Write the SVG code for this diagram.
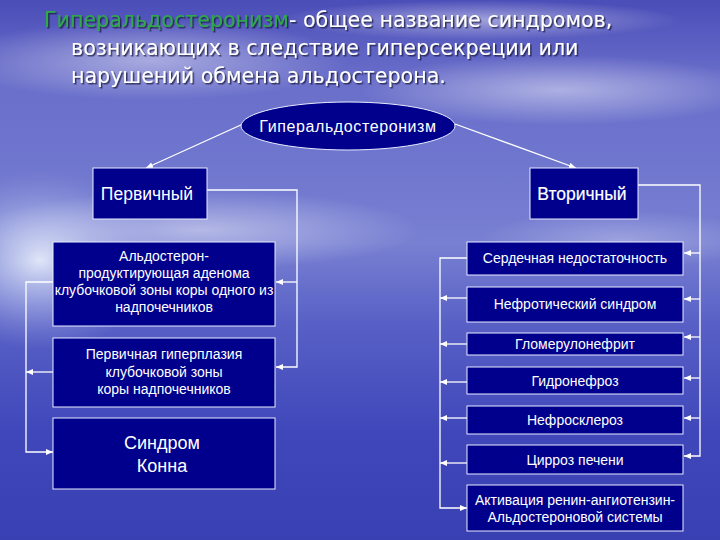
<svg xmlns="http://www.w3.org/2000/svg" width="720" height="540" viewBox="0 0 720 540">
<defs>
<linearGradient id="bg" x1="0" y1="0" x2="0" y2="1">
<stop offset="0" stop-color="#4b4db8"/>
<stop offset="0.15" stop-color="#6a6fca"/>
<stop offset="0.3" stop-color="#6f76ce"/>
<stop offset="0.45" stop-color="#7880d2"/>
<stop offset="0.6" stop-color="#5860c6"/>
<stop offset="0.8" stop-color="#4047ba"/>
<stop offset="1" stop-color="#3940b2"/>
</linearGradient>
<radialGradient id="glow" cx="0.5" cy="0.5" r="0.5">
<stop offset="0" stop-color="#e6ecfa" stop-opacity="0.95"/>
<stop offset="0.5" stop-color="#bcc6ee" stop-opacity="0.5"/>
<stop offset="1" stop-color="#9aa3e0" stop-opacity="0"/>
</radialGradient>
<radialGradient id="cloud" cx="0.5" cy="0.5" r="0.5">
<stop offset="0" stop-color="#ffffff" stop-opacity="0.45"/>
<stop offset="1" stop-color="#ffffff" stop-opacity="0"/>
</radialGradient>
<marker id="ah" markerWidth="8" markerHeight="8" refX="7" refY="4" orient="auto" markerUnits="userSpaceOnUse">
<path d="M0,1 L7,4 L0,7 Z" fill="#ffffff"/>
</marker>
<filter id="sh" x="-5%" y="-20%" width="110%" height="140%">
<feDropShadow dx="1.5" dy="1.5" stdDeviation="0.6" flood-color="#1a1a40" flood-opacity="0.8"/>
</filter>
<style>
.box{fill:#00008c;stroke:#e8ecff;stroke-width:1}
.t{font-family:"Liberation Sans",Arial,sans-serif;fill:#ffffff;text-anchor:middle}
.s{font-size:14px}
.m{font-size:17.5px}
.l{font-size:18px}
.c{fill:none;stroke:#ffffff;stroke-width:1.3}
.title{font-family:"DejaVu Sans",Verdana,sans-serif;font-size:20.6px;fill:#ffffff}
</style>
</defs>
<rect width="720" height="540" fill="url(#bg)"/>
<ellipse cx="40" cy="260" rx="120" ry="90" fill="url(#glow)"/>
<ellipse cx="200" cy="230" rx="220" ry="40" fill="url(#cloud)"/>
<ellipse cx="150" cy="60" rx="200" ry="40" fill="url(#cloud)"/>
<ellipse cx="560" cy="90" rx="200" ry="35" fill="url(#cloud)"/>
<ellipse cx="480" cy="20" rx="200" ry="20" fill="url(#cloud)"/>
<ellipse cx="620" cy="240" rx="140" ry="30" fill="url(#cloud)" opacity="0.6"/>

<g id="title" filter="url(#sh)">
<text class="title" x="44" y="27"><tspan fill="#2fa84a">Гиперальдостеронизм</tspan>- общее название синдромов,</text>
<text class="title" x="71" y="55">возникающих в следствие гиперсекреции или</text>
<text class="title" x="71" y="83">нарушений обмена альдостерона.</text>
</g>

<g id="connectors">
<path class="c" d="M243,124 L146,168" marker-end="url(#ah)"/>
<path class="c" d="M455,124 L576,168" marker-end="url(#ah)"/>
<path class="c" d="M207,190 H297 V367 H276" marker-end="url(#ah)"/>
<path class="c" d="M297,282 H276" marker-end="url(#ah)"/>
<path class="c" d="M53,282 H26 V452 H53" marker-end="url(#ah)"/>
<path class="c" d="M53,372 H26" marker-end="url(#ah)"/>
<path class="c" d="M638,185 H700 V456 H684" marker-end="url(#ah)"/>
<path class="c" d="M700,253 H684" marker-end="url(#ah)"/>
<path class="c" d="M700,299 H684" marker-end="url(#ah)"/>
<path class="c" d="M700,337 H684" marker-end="url(#ah)"/>
<path class="c" d="M700,378 H684" marker-end="url(#ah)"/>
<path class="c" d="M700,418 H684" marker-end="url(#ah)"/>
<path class="c" d="M467,258 H440 V508 H467" marker-end="url(#ah)"/>
<path class="c" d="M467,298 H440" marker-end="url(#ah)"/>
<path class="c" d="M467,344 H440" marker-end="url(#ah)"/>
<path class="c" d="M467,382 H440" marker-end="url(#ah)"/>
<path class="c" d="M467,418 H440" marker-end="url(#ah)"/>
<path class="c" d="M467,463 H440" marker-end="url(#ah)"/>
</g>

<g id="root">
<ellipse cx="348" cy="126" rx="107" ry="24" fill="#00008c" stroke="#e8ecff" stroke-width="1"/>
<text class="t" x="348" y="132" font-size="16" letter-spacing="0.6">Гиперальдостеронизм</text>
</g>
<g id="primary">
<rect class="box" x="93" y="168" width="114" height="51"/>
<text class="t m" x="147" y="200">Первичный</text>
</g>
<g id="secondary">
<rect class="box" x="530" y="168" width="108" height="51"/>
<text class="t m" x="582" y="200" stroke="#ffffff" stroke-width="0.2">Вторичный</text>
</g>
<g id="adenoma">
<rect class="box" x="53" y="242" width="222" height="84"/>
<text class="t s" x="164" y="261">Альдостерон-</text>
<text class="t s" x="164" y="278">продуктирующая аденома</text>
<text class="t s" x="164" y="295">клубочковой зоны коры одного из</text>
<text class="t s" x="164" y="312">надпочечников</text>
</g>
<g id="hyperplasia">
<rect class="box" x="53" y="338" width="222" height="69"/>
<text class="t s" x="164" y="359">Первичная гиперплазия</text>
<text class="t s" x="164" y="377">клубочковой зоны</text>
<text class="t s" x="164" y="394">коры надпочечников</text>
</g>
<g id="conn">
<rect class="box" x="53" y="418" width="222" height="71"/>
<text class="t l" x="162" y="449">Синдром</text>
<text class="t l" x="162" y="472">Конна</text>
</g>
<g id="heart">
<rect class="box" x="467" y="242" width="216" height="33"/>
<text class="t s" x="575" y="263">Сердечная недостаточность</text>
</g>
<g id="nephrotic">
<rect class="box" x="467" y="287" width="216" height="35"/>
<text class="t s" x="575" y="309">Нефротический синдром</text>
</g>
<g id="glomerulo">
<rect class="box" x="467" y="333" width="216" height="22"/>
<text class="t s" x="575" y="349">Гломерулонефрит</text>
</g>
<g id="hydro">
<rect class="box" x="467" y="367" width="216" height="27"/>
<text class="t s" x="575" y="386">Гидронефроз</text>
</g>
<g id="sclerosis">
<rect class="box" x="467" y="406" width="216" height="28"/>
<text class="t s" x="575" y="425">Нефросклероз</text>
</g>
<g id="cirrhosis">
<rect class="box" x="467" y="445" width="216" height="29"/>
<text class="t s" x="575" y="465">Цирроз печени</text>
</g>
<g id="raas">
<rect class="box" x="467" y="485" width="216" height="46"/>
<text class="t s" x="575" y="505">Активация ренин-ангиотензин-</text>
<text class="t s" x="575" y="522">Альдостероновой системы</text>
</g>
</svg>
